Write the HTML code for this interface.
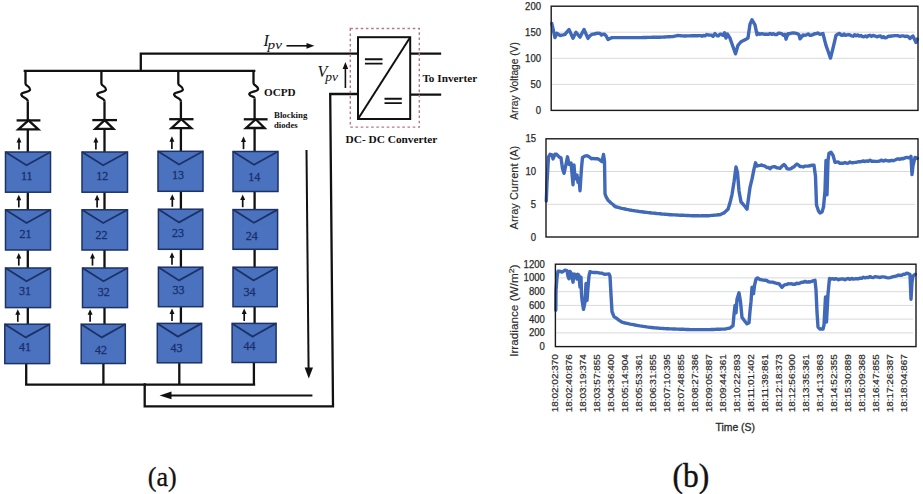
<!DOCTYPE html>
<html><head><meta charset="utf-8"><style>
html,body{margin:0;padding:0;background:#fff;font-family:"Liberation Sans",sans-serif;}
body{width:923px;height:494px;overflow:hidden;}
svg{display:block;}
</style></head><body>
<svg width="923" height="494" viewBox="0 0 923 494">

<g stroke="#111" stroke-width="2.3" fill="none" stroke-linecap="square">
<path d="M24.8 70.9 H254.2"/>
<path d="M140.8 70.9 V53.6 H358"/>
<path d="M358 94 H330.2 L333 406.3 H144.7 V384.5"/>
<path d="M26.2 384.6 H254"/>
<path d="M410 53.6 H440"/><path d="M410 94.6 H440"/>
</g>
<path d="M25.5 70.9 V83.4 C25.5 86.2 30.5 86.2 30.1 89.60000000000001 C29.7 92.80000000000001 20.7 91.4 21.3 94.80000000000001 C21.9 97.9 27.8 97.8 27.8 101.3 " stroke="#111" stroke-width="2.3" fill="none"/>
<path d="M27.8 101.3 V120.4" stroke="#111" stroke-width="2.3"/>
<path d="M27.8 129.3 V152" stroke="#111" stroke-width="2.3"/>
<path d="M16.6 120.4 H40.4" stroke="#111" stroke-width="2.3"/>
<path d="M28.5 120.4 L18.4 129.3 H38.3 Z" stroke="#111" stroke-width="2.3" fill="none" stroke-linejoin="miter"/>
<path d="M27.8 192.2 V209.8" stroke="#111" stroke-width="2.3"/>
<path d="M27.8 250 V268" stroke="#111" stroke-width="2.3"/>
<path d="M27.8 307.6 V324.2" stroke="#111" stroke-width="2.3"/>
<path d="M26.2 363.6 V384.6" stroke="#111" stroke-width="2.3"/>
<path d="M19.0 149.6 V141.0" stroke="#111" stroke-width="1.7"/>
<path d="M16.5 142.5 L19.0 137.0 L21.5 142.5 Z" fill="#111"/>
<path d="M18.8 207.4 V198.8" stroke="#111" stroke-width="1.7"/>
<path d="M16.3 200.3 L18.8 194.8 L21.3 200.3 Z" fill="#111"/>
<path d="M18.8 265.6 V257.0" stroke="#111" stroke-width="1.7"/>
<path d="M16.3 258.5 L18.8 253.0 L21.3 258.5 Z" fill="#111"/>
<path d="M17.8 321.8 V313.2" stroke="#111" stroke-width="1.7"/>
<path d="M15.3 314.7 L17.8 309.2 L20.3 314.7 Z" fill="#111"/>
<rect x="5.5" y="152" width="45.0" height="40.2" fill="#4a72be" stroke="#1c3166" stroke-width="1.5"/>
<path d="M5.5 152 L26.5 165.2 L50.5 152" fill="none" stroke="#1c3166" stroke-width="1.8"/>
<text x="26.7" y="179.9" font-family="Liberation Serif" font-size="12" fill="#1a2f6e" stroke="#1a2f6e" stroke-width="0.3" text-anchor="middle">11</text>
<rect x="5.5" y="209.8" width="45.0" height="40.2" fill="#4a72be" stroke="#1c3166" stroke-width="1.5"/>
<path d="M5.5 209.8 L26.5 223.0 L50.5 209.8" fill="none" stroke="#1c3166" stroke-width="1.8"/>
<text x="25.5" y="237.8" font-family="Liberation Serif" font-size="12" fill="#1a2f6e" stroke="#1a2f6e" stroke-width="0.3" text-anchor="middle">21</text>
<rect x="5.5" y="268" width="45.0" height="39.6" fill="#4a72be" stroke="#1c3166" stroke-width="1.5"/>
<path d="M5.5 268 L26.5 281.2 L50.5 268" fill="none" stroke="#1c3166" stroke-width="1.8"/>
<text x="24.9" y="294.9" font-family="Liberation Serif" font-size="12" fill="#1a2f6e" stroke="#1a2f6e" stroke-width="0.3" text-anchor="middle">31</text>
<rect x="4.8" y="324.2" width="44.8" height="39.4" fill="#4a72be" stroke="#1c3166" stroke-width="1.5"/>
<path d="M4.8 324.2 L25.7 337.4 L49.6 324.2" fill="none" stroke="#1c3166" stroke-width="1.8"/>
<text x="24.9" y="351.0" font-family="Liberation Serif" font-size="12" fill="#1a2f6e" stroke="#1a2f6e" stroke-width="0.3" text-anchor="middle">41</text>
<path d="M101.4 70.9 V83.4 C101.4 86.2 106.4 86.2 106.0 89.60000000000001 C105.60000000000001 92.80000000000001 96.60000000000001 91.4 97.2 94.80000000000001 C97.80000000000001 97.9 104.5 97.8 104.5 101.3 " stroke="#111" stroke-width="2.3" fill="none"/>
<path d="M104.5 101.3 V120.1" stroke="#111" stroke-width="2.3"/>
<path d="M104.5 128.9 V152" stroke="#111" stroke-width="2.3"/>
<path d="M92.3 120.1 H117" stroke="#111" stroke-width="2.3"/>
<path d="M104.7 120.1 L95.3 128.9 H113.5 Z" stroke="#111" stroke-width="2.3" fill="none" stroke-linejoin="miter"/>
<path d="M104.5 192.2 V209.8" stroke="#111" stroke-width="2.3"/>
<path d="M104.5 250 V268" stroke="#111" stroke-width="2.3"/>
<path d="M104.5 307.6 V324.2" stroke="#111" stroke-width="2.3"/>
<path d="M103.4 363.5 V384.6" stroke="#111" stroke-width="2.3"/>
<path d="M95.9 149.6 V141.0" stroke="#111" stroke-width="1.7"/>
<path d="M93.4 142.5 L95.9 137.0 L98.4 142.5 Z" fill="#111"/>
<path d="M97.1 207.4 V198.8" stroke="#111" stroke-width="1.7"/>
<path d="M94.6 200.3 L97.1 194.8 L99.6 200.3 Z" fill="#111"/>
<path d="M92.5 265.6 V257.0" stroke="#111" stroke-width="1.7"/>
<path d="M90.0 258.5 L92.5 253.0 L95.0 258.5 Z" fill="#111"/>
<path d="M90.1 321.8 V313.2" stroke="#111" stroke-width="1.7"/>
<path d="M87.6 314.7 L90.1 309.2 L92.6 314.7 Z" fill="#111"/>
<rect x="82" y="152" width="45.5" height="40.2" fill="#4a72be" stroke="#1c3166" stroke-width="1.5"/>
<path d="M82 152 L103.2 165.2 L127.5 152" fill="none" stroke="#1c3166" stroke-width="1.8"/>
<text x="102.3" y="179.5" font-family="Liberation Serif" font-size="12" fill="#1a2f6e" stroke="#1a2f6e" stroke-width="0.3" text-anchor="middle">12</text>
<rect x="82" y="209.8" width="45.5" height="40.2" fill="#4a72be" stroke="#1c3166" stroke-width="1.5"/>
<path d="M82 209.8 L103.2 223.0 L127.5 209.8" fill="none" stroke="#1c3166" stroke-width="1.8"/>
<text x="101.6" y="238.5" font-family="Liberation Serif" font-size="12" fill="#1a2f6e" stroke="#1a2f6e" stroke-width="0.3" text-anchor="middle">22</text>
<rect x="82.5" y="268" width="45.0" height="39.6" fill="#4a72be" stroke="#1c3166" stroke-width="1.5"/>
<path d="M82.5 268 L103.5 281.2 L127.5 268" fill="none" stroke="#1c3166" stroke-width="1.8"/>
<text x="103.8" y="295.8" font-family="Liberation Serif" font-size="12" fill="#1a2f6e" stroke="#1a2f6e" stroke-width="0.3" text-anchor="middle">32</text>
<rect x="81.2" y="324.2" width="44.1" height="39.3" fill="#4a72be" stroke="#1c3166" stroke-width="1.5"/>
<path d="M81.2 324.2 L101.8 337.4 L125.3 324.2" fill="none" stroke="#1c3166" stroke-width="1.8"/>
<text x="101" y="353.5" font-family="Liberation Serif" font-size="12" fill="#1a2f6e" stroke="#1a2f6e" stroke-width="0.3" text-anchor="middle">42</text>
<path d="M178.3 70.9 V83.4 C178.3 86.2 183.3 86.2 182.9 89.60000000000001 C182.5 92.80000000000001 173.5 91.4 174.10000000000002 94.80000000000001 C174.70000000000002 97.9 180.9 97.8 180.9 101.3 " stroke="#111" stroke-width="2.3" fill="none"/>
<path d="M180.9 101.3 V119.2" stroke="#111" stroke-width="2.3"/>
<path d="M180.9 128.2 V151.3" stroke="#111" stroke-width="2.3"/>
<path d="M169.2 119.2 H193.5" stroke="#111" stroke-width="2.3"/>
<path d="M181.3 119.2 L171.5 128.2 H191.3 Z" stroke="#111" stroke-width="2.3" fill="none" stroke-linejoin="miter"/>
<path d="M180.9 191.3 V209.2" stroke="#111" stroke-width="2.3"/>
<path d="M180.9 249.3 V267.2" stroke="#111" stroke-width="2.3"/>
<path d="M180.9 306.7 V323.4" stroke="#111" stroke-width="2.3"/>
<path d="M179.3 362.8 V384.6" stroke="#111" stroke-width="2.3"/>
<path d="M171.9 148.9 V140.3" stroke="#111" stroke-width="1.7"/>
<path d="M169.4 141.8 L171.9 136.3 L174.4 141.8 Z" fill="#111"/>
<path d="M172.3 206.79999999999998 V198.2" stroke="#111" stroke-width="1.7"/>
<path d="M169.8 199.7 L172.3 194.2 L174.8 199.7 Z" fill="#111"/>
<path d="M172.0 264.8 V256.2" stroke="#111" stroke-width="1.7"/>
<path d="M169.5 257.7 L172.0 252.2 L174.5 257.7 Z" fill="#111"/>
<path d="M172.0 321.0 V312.4" stroke="#111" stroke-width="1.7"/>
<path d="M169.5 313.9 L172.0 308.4 L174.5 313.9 Z" fill="#111"/>
<rect x="158" y="151.3" width="45.0" height="40.0" fill="#4a72be" stroke="#1c3166" stroke-width="1.5"/>
<path d="M158 151.3 L179.0 164.5 L203 151.3" fill="none" stroke="#1c3166" stroke-width="1.8"/>
<text x="178.1" y="179.0" font-family="Liberation Serif" font-size="12" fill="#1a2f6e" stroke="#1a2f6e" stroke-width="0.3" text-anchor="middle">13</text>
<rect x="158.4" y="209.2" width="44.4" height="40.1" fill="#4a72be" stroke="#1c3166" stroke-width="1.5"/>
<path d="M158.4 209.2 L179.1 222.39999999999998 L202.8 209.2" fill="none" stroke="#1c3166" stroke-width="1.8"/>
<text x="178" y="237.0" font-family="Liberation Serif" font-size="12" fill="#1a2f6e" stroke="#1a2f6e" stroke-width="0.3" text-anchor="middle">23</text>
<rect x="158.4" y="267.2" width="44.4" height="39.5" fill="#4a72be" stroke="#1c3166" stroke-width="1.5"/>
<path d="M158.4 267.2 L179.1 280.4 L202.8 267.2" fill="none" stroke="#1c3166" stroke-width="1.8"/>
<text x="178.4" y="294.3" font-family="Liberation Serif" font-size="12" fill="#1a2f6e" stroke="#1a2f6e" stroke-width="0.3" text-anchor="middle">33</text>
<rect x="157.3" y="323.4" width="44.3" height="39.4" fill="#4a72be" stroke="#1c3166" stroke-width="1.5"/>
<path d="M157.3 323.4 L177.9 336.59999999999997 L201.6 323.4" fill="none" stroke="#1c3166" stroke-width="1.8"/>
<text x="176.6" y="351.6" font-family="Liberation Serif" font-size="12" fill="#1a2f6e" stroke="#1a2f6e" stroke-width="0.3" text-anchor="middle">43</text>
<path d="M253.5 70.9 V83.0 C253.5 85.8 258.5 85.8 258.1 89.2 C257.7 92.4 248.7 91.0 249.3 94.4 C249.9 97.5 254.6 95.1 254.6 98.6 " stroke="#111" stroke-width="2.3" fill="none"/>
<path d="M254.6 98.6 V119.3" stroke="#111" stroke-width="2.3"/>
<path d="M254.6 128.0 V151.5" stroke="#111" stroke-width="2.3"/>
<path d="M243.8 119.3 H267.6" stroke="#111" stroke-width="2.3"/>
<path d="M255.7 119.3 L246.0 128.0 H264.6 Z" stroke="#111" stroke-width="2.3" fill="none" stroke-linejoin="miter"/>
<path d="M254.6 191.5 V209.6" stroke="#111" stroke-width="2.3"/>
<path d="M254.6 249.3 V267.2" stroke="#111" stroke-width="2.3"/>
<path d="M254.6 306.7 V323.4" stroke="#111" stroke-width="2.3"/>
<path d="M253.9 362.5 V384.6" stroke="#111" stroke-width="2.3"/>
<path d="M243.5 149.1 V140.5" stroke="#111" stroke-width="1.7"/>
<path d="M241.0 142.0 L243.5 136.5 L246.0 142.0 Z" fill="#111"/>
<path d="M242.7 207.2 V198.6" stroke="#111" stroke-width="1.7"/>
<path d="M240.2 200.1 L242.7 194.6 L245.2 200.1 Z" fill="#111"/>
<path d="M244.2 321.0 V312.4" stroke="#111" stroke-width="1.7"/>
<path d="M241.7 313.9 L244.2 308.4 L246.7 313.9 Z" fill="#111"/>
<rect x="233" y="151.5" width="45.0" height="40.0" fill="#4a72be" stroke="#1c3166" stroke-width="1.5"/>
<path d="M233 151.5 L254.0 164.7 L278 151.5" fill="none" stroke="#1c3166" stroke-width="1.8"/>
<text x="254.2" y="180.8" font-family="Liberation Serif" font-size="12" fill="#1a2f6e" stroke="#1a2f6e" stroke-width="0.3" text-anchor="middle">14</text>
<rect x="233" y="209.6" width="44.6" height="39.7" fill="#4a72be" stroke="#1c3166" stroke-width="1.5"/>
<path d="M233 209.6 L253.8 222.79999999999998 L277.6 209.6" fill="none" stroke="#1c3166" stroke-width="1.8"/>
<text x="251.8" y="239.5" font-family="Liberation Serif" font-size="12" fill="#1a2f6e" stroke="#1a2f6e" stroke-width="0.3" text-anchor="middle">24</text>
<rect x="233" y="267.2" width="44.2" height="39.5" fill="#4a72be" stroke="#1c3166" stroke-width="1.5"/>
<path d="M233 267.2 L253.6 280.4 L277.2 267.2" fill="none" stroke="#1c3166" stroke-width="1.8"/>
<text x="249.4" y="295.5" font-family="Liberation Serif" font-size="12" fill="#1a2f6e" stroke="#1a2f6e" stroke-width="0.3" text-anchor="middle">34</text>
<rect x="232.1" y="323.4" width="44.0" height="39.1" fill="#4a72be" stroke="#1c3166" stroke-width="1.5"/>
<path d="M232.1 323.4 L252.6 336.59999999999997 L276.1 323.4" fill="none" stroke="#1c3166" stroke-width="1.8"/>
<text x="249.4" y="349.5" font-family="Liberation Serif" font-size="12" fill="#1a2f6e" stroke="#1a2f6e" stroke-width="0.3" text-anchor="middle">44</text>
<path d="M306.5 150 L308.6 370" stroke="#111" stroke-width="2"/>
<path d="M304.6 367.6 L313 367.6 L308.8 378.5 Z" fill="#111"/>
<path d="M312.4 395.4 H168" stroke="#111" stroke-width="2"/>
<path d="M171.5 391.6 L159.6 395.4 L171.5 399.2 Z" fill="#111"/>
<path d="M286.5 45.8 H308" stroke="#111" stroke-width="1.6"/>
<path d="M306.5 42.9 L314.4 45.8 L306.5 48.7 Z" fill="#111"/>
<path d="M345.4 88 V67" stroke="#111" stroke-width="1.6"/>
<path d="M342.6 69 L345.4 62 L348.2 69 Z" fill="#111"/>
<rect x="350.3" y="28.5" width="69" height="98.6" fill="none" stroke="#b57a86" stroke-width="1.4" stroke-dasharray="2.6 2.6"/>
<rect x="358" y="37.2" width="52.2" height="81.8" fill="#fff" stroke="#111" stroke-width="2"/>
<path d="M358 119 L410.2 37.2" stroke="#111" stroke-width="2"/>
<path d="M364.9 59.3 H382.5 M364.9 63.6 H382.5" stroke="#111" stroke-width="1.9"/>
<path d="M384.5 98.8 H401.8 M384.5 103.1 H401.8" stroke="#111" stroke-width="1.9"/>
<text x="263.6" y="46.2" font-family="Liberation Serif" font-style="italic" font-size="16" fill="#111">I</text>
<text x="267.6" y="49.2" font-family="Liberation Serif" font-style="italic" font-size="12.5" fill="#111" textLength="14.4" lengthAdjust="spacingAndGlyphs">pv</text>
<text x="317.6" y="77.4" font-family="Liberation Serif" font-style="italic" font-size="16" fill="#111">V</text>
<text x="325.2" y="80.5" font-family="Liberation Serif" font-style="italic" font-size="12.5" fill="#111" textLength="12.8" lengthAdjust="spacingAndGlyphs">pv</text>
<text x="264" y="96.2" font-family="Liberation Serif" font-weight="bold" font-size="11" fill="#111" textLength="31.6" lengthAdjust="spacingAndGlyphs">OCPD</text>
<text x="274" y="117.7" font-family="Liberation Serif" font-weight="bold" font-size="8.8" fill="#111" textLength="33.4" lengthAdjust="spacingAndGlyphs">Blocking</text>
<text x="274" y="127.5" font-family="Liberation Serif" font-weight="bold" font-size="8.8" fill="#111" textLength="23.7" lengthAdjust="spacingAndGlyphs">diodes</text>
<text x="422.4" y="82.1" font-family="Liberation Serif" font-weight="bold" font-size="11" fill="#111" textLength="54.8" lengthAdjust="spacingAndGlyphs">To Inverter</text>
<text x="345.6" y="142.9" font-family="Liberation Serif" font-weight="bold" font-size="11" fill="#111" textLength="91.8" lengthAdjust="spacingAndGlyphs">DC- DC Converter</text>
<text x="147.7" y="486" font-family="Liberation Serif" font-size="27.5" fill="#111" stroke="#111" stroke-width="0.3" textLength="29" lengthAdjust="spacingAndGlyphs">(a)</text>
<text x="672.5" y="486.5" font-family="Liberation Serif" font-size="33" fill="#111" stroke="#111" stroke-width="0.4" textLength="36.7" lengthAdjust="spacingAndGlyphs">(b)</text>
<text x="541" y="113.9" font-family="Liberation Sans" font-size="10" fill="#2a2a2a" stroke="#2a2a2a" stroke-width="0.25" text-anchor="end" textLength="5.3" lengthAdjust="spacingAndGlyphs">0</text>
<path d="M552.2 84.4 H915" stroke="#d9d9d9" stroke-width="1"/>
<text x="541" y="87.9" font-family="Liberation Sans" font-size="10" fill="#2a2a2a" stroke="#2a2a2a" stroke-width="0.25" text-anchor="end" textLength="10.6" lengthAdjust="spacingAndGlyphs">50</text>
<path d="M552.2 58.3 H915" stroke="#d9d9d9" stroke-width="1"/>
<text x="541" y="61.8" font-family="Liberation Sans" font-size="10" fill="#2a2a2a" stroke="#2a2a2a" stroke-width="0.25" text-anchor="end" textLength="15.9" lengthAdjust="spacingAndGlyphs">100</text>
<path d="M552.2 32.2 H915" stroke="#d9d9d9" stroke-width="1"/>
<text x="541" y="35.8" font-family="Liberation Sans" font-size="10" fill="#2a2a2a" stroke="#2a2a2a" stroke-width="0.25" text-anchor="end" textLength="15.9" lengthAdjust="spacingAndGlyphs">150</text>
<text x="541" y="9.7" font-family="Liberation Sans" font-size="10" fill="#2a2a2a" stroke="#2a2a2a" stroke-width="0.25" text-anchor="end" textLength="15.9" lengthAdjust="spacingAndGlyphs">200</text>
<path d="M551.8 23.5 L553.4 30.6 L555.0 37.6 L557.0 33.3 L558.5 34.4 L560.0 35.5 L561.7 35.1 L563.3 34.8 L565.0 34.4 L567.0 31.9 L569.0 29.5 L571.0 33.9 L573.0 38.2 L574.5 35.2 L576.0 32.2 L578.0 34.7 L580.0 37.1 L582.0 33.3 L584.0 29.5 L586.0 34.0 L588.0 38.4 L589.5 36.2 L591.0 35.0 L592.7 34.1 L594.3 34.0 L596.0 33.5 L598.0 33.1 L600.0 33.5 L601.5 35.1 L603.0 34.2 L604.5 34.3 L606.0 35.8 L608.0 39.5 L610.0 38.5 L612.0 37.6 L613.6 37.6 L615.1 37.6 L616.7 37.6 L618.2 37.6 L619.8 37.6 L621.3 37.6 L622.9 37.6 L624.4 37.6 L626.0 37.6 L627.6 37.6 L629.1 37.6 L630.7 37.6 L632.2 37.6 L633.8 37.6 L635.3 37.6 L636.9 37.6 L638.4 37.6 L640.0 37.6 L641.5 37.6 L643.1 37.5 L644.6 37.5 L646.1 37.5 L647.7 37.4 L649.2 37.4 L650.7 37.4 L652.3 37.3 L653.8 37.3 L655.3 37.3 L656.9 37.2 L658.4 37.2 L659.9 37.2 L661.5 37.1 L663.0 37.1 L664.7 37.0 L666.3 36.9 L668.0 36.8 L669.7 36.7 L671.3 36.6 L673.0 36.5 L674.7 36.2 L676.3 35.8 L678.0 35.5 L679.5 35.6 L681.0 35.8 L682.5 35.9 L684.0 36.0 L685.5 36.0 L687.0 35.9 L688.5 35.9 L690.0 35.9 L691.5 35.8 L693.0 35.8 L694.5 35.8 L696.0 35.7 L697.5 35.7 L699.0 35.6 L700.5 35.6 L702.0 36.2 L703.5 35.5 L705.0 35.8 L706.7 34.5 L708.3 35.0 L710.0 35.1 L711.5 35.2 L713.0 36.4 L715.0 33.6 L717.0 35.7 L718.5 35.7 L720.0 34.2 L721.5 34.3 L723.0 35.4 L724.5 32.8 L726.0 38.0 L727.5 34.0 L730.0 38.2 L731.5 42.5 L733.0 46.7 L735.5 53.8 L738.0 45.3 L739.5 43.5 L741.0 41.8 L743.0 40.8 L745.0 39.7 L746.5 38.9 L748.0 38.0 L750.0 24.1 L752.0 19.8 L753.5 22.3 L755.0 24.8 L757.0 34.7 L758.5 33.3 L760.0 34.3 L761.7 33.6 L763.3 34.0 L765.0 34.3 L766.7 34.1 L768.3 34.4 L770.0 33.5 L771.7 34.3 L773.3 33.7 L775.0 34.6 L776.7 34.6 L778.3 33.2 L780.0 33.3 L781.7 33.7 L783.3 35.2 L785.0 34.4 L786.0 39.2 L788.0 33.6 L789.8 33.7 L791.5 33.2 L793.2 32.9 L795.0 33.1 L797.0 33.6 L799.0 34.7 L800.0 38.8 L801.5 37.2 L803.0 34.9 L804.8 35.3 L806.5 34.8 L808.2 34.0 L810.0 35.3 L811.5 35.2 L813.0 34.7 L814.5 33.8 L816.0 33.7 L817.8 33.0 L819.5 34.2 L821.2 34.0 L823.0 33.6 L824.5 39.7 L826.0 45.4 L828.0 51.0 L830.5 58.1 L833.0 48.2 L834.5 41.8 L836.0 35.4 L838.0 34.0 L839.5 33.4 L841.0 35.0 L842.5 35.4 L844.0 34.0 L845.5 35.4 L847.0 34.9 L848.5 34.6 L850.0 35.0 L851.5 35.9 L853.1 36.2 L854.6 34.7 L856.2 35.8 L857.7 34.9 L859.2 36.1 L860.8 35.5 L862.3 36.5 L863.8 36.7 L865.4 35.9 L866.9 36.9 L868.5 35.7 L870.0 35.3 L871.5 36.4 L873.0 35.5 L874.5 35.9 L876.0 36.3 L877.5 36.8 L879.0 36.1 L880.5 36.0 L882.0 37.6 L883.5 36.7 L885.0 37.9 L886.7 37.5 L888.3 36.3 L890.0 36.2 L891.7 36.0 L893.3 35.9 L895.0 35.6 L896.7 35.6 L898.3 35.8 L900.0 36.5 L901.7 35.9 L903.3 35.9 L905.0 36.5 L906.7 36.1 L908.3 36.7 L910.0 38.5 L911.5 36.9 L913.0 36.1 L914.5 39.3 L916.0 42.5 L917.3 39.0" fill="none" stroke="#4169b9" stroke-width="3.4" stroke-linejoin="round" stroke-linecap="round"/>
<rect x="551.2" y="6.2" width="366.79999999999995" height="104.2" fill="none" stroke="#1a1a1a" stroke-width="1.4"/>
<text transform="translate(518 81) rotate(-90)" font-family="Liberation Sans" font-size="10.2" fill="#2a2a2a" stroke="#2a2a2a" stroke-width="0.15" text-anchor="middle" textLength="77.6" lengthAdjust="spacingAndGlyphs">Array Voltage (V)</text>
<text x="536" y="240.5" font-family="Liberation Sans" font-size="10" fill="#2a2a2a" stroke="#2a2a2a" stroke-width="0.25" text-anchor="end" textLength="5.3" lengthAdjust="spacingAndGlyphs">0</text>
<path d="M547 204.3 H915" stroke="#d9d9d9" stroke-width="1"/>
<text x="536" y="207.8" font-family="Liberation Sans" font-size="10" fill="#2a2a2a" stroke="#2a2a2a" stroke-width="0.25" text-anchor="end" textLength="5.3" lengthAdjust="spacingAndGlyphs">5</text>
<path d="M547 171.5 H915" stroke="#d9d9d9" stroke-width="1"/>
<text x="536" y="175.0" font-family="Liberation Sans" font-size="10" fill="#2a2a2a" stroke="#2a2a2a" stroke-width="0.25" text-anchor="end" textLength="10.6" lengthAdjust="spacingAndGlyphs">10</text>
<text x="536" y="142.3" font-family="Liberation Sans" font-size="10" fill="#2a2a2a" stroke="#2a2a2a" stroke-width="0.25" text-anchor="end" textLength="10.6" lengthAdjust="spacingAndGlyphs">15</text>
<path d="M546.3 201.0 L547.0 182.5 L548.5 157.0 L550.0 154.3 L552.0 154.9 L553.0 158.9 L555.0 154.3 L556.5 154.2 L558.0 155.8 L559.5 157.2 L561.0 157.8 L562.5 168.5 L564.0 173.3 L566.0 164.3 L567.5 156.8 L569.0 164.3 L571.0 163.0 L572.0 173.3 L573.0 184.7 L574.0 165.0 L575.0 178.9 L577.0 175.1 L578.0 182.4 L579.0 178.4 L580.0 190.7 L581.5 168.1 L582.5 157.4 L585.0 156.1 L587.0 155.7 L588.5 156.4 L590.0 157.5 L591.5 158.8 L593.0 158.4 L595.0 158.8 L597.0 158.7 L598.5 159.2 L600.0 160.1 L602.0 161.7 L603.5 154.5 L604.5 161.3 L605.0 193.8 L606.0 196.7 L608.0 200.2 L609.5 201.6 L611.0 203.0 L613.0 204.5 L615.0 206.5 L616.7 207.0 L618.3 207.4 L620.0 207.9 L621.7 208.3 L623.3 208.6 L625.0 209.0 L626.7 209.4 L628.3 209.7 L630.0 210.1 L631.7 210.3 L633.3 210.6 L635.0 210.8 L636.7 211.1 L638.3 211.3 L640.0 211.6 L641.7 211.8 L643.3 212.0 L645.0 212.2 L646.7 212.4 L648.3 212.6 L650.0 212.8 L651.7 213.0 L653.3 213.1 L655.0 213.3 L656.7 213.5 L658.3 213.6 L660.0 213.8 L661.7 214.0 L663.3 214.1 L665.0 214.2 L666.7 214.4 L668.3 214.5 L670.0 214.7 L671.7 214.8 L673.3 214.9 L675.0 214.9 L676.7 215.0 L678.3 215.1 L680.0 215.2 L681.7 215.3 L683.3 215.3 L685.0 215.4 L686.7 215.5 L688.3 215.5 L690.0 215.6 L691.7 215.7 L693.3 215.7 L695.0 215.8 L696.7 215.8 L698.3 215.8 L700.0 215.9 L701.7 215.8 L703.3 215.8 L705.0 215.8 L706.7 215.7 L708.3 215.7 L710.0 215.6 L711.7 215.4 L713.3 215.3 L715.0 215.1 L716.7 215.0 L718.3 214.8 L720.0 214.7 L722.0 213.8 L724.0 212.9 L726.0 211.1 L728.0 209.2 L730.0 202.8 L732.0 194.6 L734.0 181.9 L736.0 167.0 L737.5 172.8 L739.0 191.0 L741.0 201.9 L743.0 204.2 L745.0 206.5 L747.0 209.2 L748.5 198.3 L750.0 187.4 L752.0 179.2 L754.0 169.1 L755.5 162.8 L757.0 166.0 L758.5 165.7 L760.0 165.4 L761.7 165.0 L763.3 165.7 L765.0 166.2 L766.7 167.5 L768.3 167.5 L770.0 168.7 L771.7 167.1 L773.3 166.8 L775.0 166.6 L776.7 167.7 L778.3 167.9 L780.0 168.4 L782.0 166.2 L784.0 164.6 L785.5 166.0 L787.0 168.6 L789.0 169.1 L791.0 168.7 L792.5 167.4 L794.0 166.8 L795.5 165.2 L797.0 164.1 L798.5 165.1 L800.0 166.5 L801.7 166.5 L803.3 167.0 L805.0 166.1 L806.7 166.1 L808.3 166.0 L810.0 165.8 L812.0 165.1 L814.0 165.1 L815.5 176.4 L816.5 205.0 L818.5 211.0 L820.0 213.0 L822.0 212.0 L823.5 207.0 L825.0 190.8 L826.0 160.4 L827.0 194.8 L828.0 160.4 L829.0 153.3 L831.0 152.3 L833.0 155.3 L835.0 162.4 L836.7 162.1 L838.3 162.0 L840.0 163.4 L841.7 163.3 L843.3 163.3 L845.0 162.5 L846.7 163.2 L848.3 163.1 L850.0 162.0 L851.7 162.7 L853.3 162.7 L855.0 162.4 L856.7 162.2 L858.3 161.8 L860.0 161.8 L861.7 161.4 L863.3 161.0 L865.0 161.5 L866.7 160.9 L868.3 161.4 L870.0 160.2 L871.7 161.4 L873.3 161.1 L875.0 161.4 L876.7 161.4 L878.3 161.4 L880.0 160.9 L881.7 160.1 L883.3 161.1 L885.0 160.3 L886.7 160.5 L888.3 161.0 L890.0 160.8 L891.7 160.3 L893.3 160.7 L895.0 160.0 L896.7 159.2 L898.3 158.8 L900.0 159.3 L901.7 158.5 L903.3 158.7 L905.0 157.9 L906.7 157.4 L908.3 157.7 L910.0 157.8 L911.0 156.3 L912.0 174.6 L913.0 165.5 L915.0 157.4 L917.3 158.4" fill="none" stroke="#4169b9" stroke-width="3.4" stroke-linejoin="round" stroke-linecap="round"/>
<rect x="546" y="138.8" width="372" height="98.19999999999999" fill="none" stroke="#1a1a1a" stroke-width="1.4"/>
<text transform="translate(518 187.6) rotate(-90)" font-family="Liberation Sans" font-size="10.2" fill="#2a2a2a" stroke="#2a2a2a" stroke-width="0.15" text-anchor="middle" textLength="83.7" lengthAdjust="spacingAndGlyphs">Array Current (A)</text>
<text x="544.8" y="350.1" font-family="Liberation Sans" font-size="10" fill="#2a2a2a" stroke="#2a2a2a" stroke-width="0.25" text-anchor="end" textLength="5.3" lengthAdjust="spacingAndGlyphs">0</text>
<path d="M556.4 332.9 H913" stroke="#d9d9d9" stroke-width="1"/>
<text x="544.8" y="336.4" font-family="Liberation Sans" font-size="10" fill="#2a2a2a" stroke="#2a2a2a" stroke-width="0.25" text-anchor="end" textLength="15.9" lengthAdjust="spacingAndGlyphs">200</text>
<path d="M556.4 319.1 H913" stroke="#d9d9d9" stroke-width="1"/>
<text x="544.8" y="322.6" font-family="Liberation Sans" font-size="10" fill="#2a2a2a" stroke="#2a2a2a" stroke-width="0.25" text-anchor="end" textLength="15.9" lengthAdjust="spacingAndGlyphs">400</text>
<path d="M556.4 305.4 H913" stroke="#d9d9d9" stroke-width="1"/>
<text x="544.8" y="308.9" font-family="Liberation Sans" font-size="10" fill="#2a2a2a" stroke="#2a2a2a" stroke-width="0.25" text-anchor="end" textLength="15.9" lengthAdjust="spacingAndGlyphs">600</text>
<path d="M556.4 291.7 H913" stroke="#d9d9d9" stroke-width="1"/>
<text x="544.8" y="295.2" font-family="Liberation Sans" font-size="10" fill="#2a2a2a" stroke="#2a2a2a" stroke-width="0.25" text-anchor="end" textLength="15.9" lengthAdjust="spacingAndGlyphs">800</text>
<path d="M556.4 277.9 H913" stroke="#d9d9d9" stroke-width="1"/>
<text x="544.8" y="281.4" font-family="Liberation Sans" font-size="10" fill="#2a2a2a" stroke="#2a2a2a" stroke-width="0.25" text-anchor="end" textLength="21.2" lengthAdjust="spacingAndGlyphs">1000</text>
<text x="544.8" y="267.7" font-family="Liberation Sans" font-size="10" fill="#2a2a2a" stroke="#2a2a2a" stroke-width="0.25" text-anchor="end" textLength="21.2" lengthAdjust="spacingAndGlyphs">1200</text>
<path d="M555.8 310.2 L556.0 290.3 L557.0 277.6 L558.0 271.2 L560.0 271.2 L562.0 272.1 L563.5 271.1 L565.0 270.2 L567.0 270.6 L568.0 276.4 L569.0 278.7 L570.0 271.4 L571.5 273.7 L573.0 282.2 L574.0 274.0 L576.0 274.7 L577.0 279.0 L578.0 274.3 L579.0 275.6 L580.0 287.0 L581.0 277.2 L581.5 294.1 L582.0 299.8 L583.5 309.4 L585.0 302.1 L586.0 283.5 L587.0 300.3 L588.0 287.3 L589.0 276.0 L590.0 271.7 L592.0 272.4 L594.0 272.5 L596.0 272.4 L598.0 272.6 L600.0 273.1 L601.7 273.1 L603.3 273.8 L605.0 274.3 L607.0 274.1 L609.0 274.0 L610.0 276.2 L611.0 294.6 L612.0 311.6 L614.0 316.6 L615.5 317.6 L617.0 318.7 L618.5 319.8 L620.0 320.8 L622.0 322.2 L623.6 322.6 L625.2 323.0 L626.8 323.3 L628.4 323.7 L630.0 324.1 L631.7 324.4 L633.3 324.7 L635.0 325.0 L636.7 325.3 L638.3 325.6 L640.0 325.9 L641.7 326.1 L643.3 326.4 L645.0 326.6 L646.7 326.9 L648.3 327.1 L650.0 327.4 L651.7 327.5 L653.3 327.7 L655.0 327.9 L656.7 328.0 L658.3 328.1 L660.0 328.3 L661.7 328.4 L663.3 328.5 L665.0 328.6 L666.7 328.7 L668.3 328.8 L670.0 328.9 L671.7 328.9 L673.3 329.0 L675.0 329.0 L676.7 329.1 L678.3 329.1 L680.0 329.2 L681.7 329.3 L683.3 329.3 L685.0 329.4 L686.7 329.5 L688.3 329.5 L690.0 329.6 L691.7 329.6 L693.3 329.6 L695.0 329.6 L696.7 329.6 L698.3 329.6 L700.0 329.6 L701.7 329.6 L703.3 329.6 L705.0 329.6 L706.7 329.6 L708.3 329.6 L710.0 329.6 L711.7 329.5 L713.3 329.5 L715.0 329.4 L716.7 329.3 L718.3 329.3 L720.0 329.2 L721.7 329.1 L723.3 329.1 L725.0 329.0 L726.7 328.7 L728.3 328.3 L730.0 328.0 L731.5 326.8 L733.0 325.6 L734.0 314.6 L735.0 305.5 L736.0 312.8 L737.0 299.2 L739.0 292.8 L740.5 301.9 L742.0 317.4 L744.0 320.1 L745.5 322.0 L747.0 323.8 L749.0 322.8 L750.0 311.0 L751.0 301.9 L752.0 287.3 L753.5 293.7 L754.5 285.5 L756.0 279.1 L757.5 277.9 L760.0 279.6 L761.7 279.8 L763.3 280.1 L765.0 280.3 L766.7 280.5 L768.3 281.6 L770.0 282.0 L771.7 282.1 L773.3 282.3 L775.0 282.8 L777.0 283.5 L779.0 283.6 L780.5 285.7 L782.0 287.3 L783.5 285.6 L785.0 284.6 L786.7 284.6 L788.3 283.7 L790.0 283.9 L791.7 283.8 L793.3 284.3 L795.0 284.2 L796.7 283.2 L798.3 283.6 L800.0 283.1 L801.7 282.2 L803.3 282.2 L805.0 281.4 L806.7 282.1 L808.3 281.8 L810.0 282.0 L811.7 281.4 L813.3 280.7 L815.0 280.3 L816.0 290.0 L817.0 312.0 L818.0 327.0 L820.0 329.0 L821.5 329.0 L823.0 329.0 L824.0 325.0 L825.5 297.0 L826.5 322.0 L828.0 294.0 L829.5 278.5 L831.0 279.1 L832.5 278.6 L834.0 279.3 L835.5 278.7 L837.0 279.0 L838.5 279.8 L840.0 279.1 L841.7 279.0 L843.3 278.9 L845.0 279.8 L846.7 278.8 L848.3 278.5 L850.0 279.4 L851.7 278.4 L853.3 279.1 L855.0 278.8 L856.7 278.8 L858.3 278.8 L860.0 278.2 L861.7 278.3 L863.3 277.2 L865.0 277.9 L866.7 277.4 L868.3 277.5 L870.0 276.6 L871.7 277.4 L873.3 277.6 L875.0 276.6 L876.7 276.9 L878.3 277.2 L880.0 277.5 L881.7 276.9 L883.3 276.9 L885.0 277.1 L886.7 277.6 L888.3 277.9 L890.0 277.6 L891.7 277.1 L893.3 276.7 L895.0 276.3 L896.7 275.9 L898.3 275.1 L900.0 275.2 L901.6 275.4 L903.2 274.3 L904.8 274.4 L906.4 273.3 L908.0 273.5 L910.0 274.5 L911.0 299.2 L912.0 281.9 L913.0 276.1 L915.2 274.2" fill="none" stroke="#4169b9" stroke-width="3.4" stroke-linejoin="round" stroke-linecap="round"/>
<rect x="555.4" y="264.2" width="360.6" height="82.40000000000003" fill="none" stroke="#1a1a1a" stroke-width="1.4"/>
<text transform="translate(517.8 310.7) rotate(-90)" font-family="Liberation Sans" font-size="10.2" fill="#2a2a2a" stroke="#2a2a2a" stroke-width="0.15" text-anchor="middle" textLength="92.3" lengthAdjust="spacingAndGlyphs">Irradiance (W/m<tspan font-size="7.5" baseline-shift="4">2</tspan>)</text>
<text transform="translate(558.30 354.2) rotate(-90)" font-family="Liberation Sans" font-size="8.8" fill="#2a2a2a" stroke="#2a2a2a" stroke-width="0.2" text-anchor="end" textLength="58.1" lengthAdjust="spacingAndGlyphs">18:02:02:370</text>
<text transform="translate(572.25 354.2) rotate(-90)" font-family="Liberation Sans" font-size="8.8" fill="#2a2a2a" stroke="#2a2a2a" stroke-width="0.2" text-anchor="end" textLength="58.1" lengthAdjust="spacingAndGlyphs">18:02:40:876</text>
<text transform="translate(586.20 354.2) rotate(-90)" font-family="Liberation Sans" font-size="8.8" fill="#2a2a2a" stroke="#2a2a2a" stroke-width="0.2" text-anchor="end" textLength="58.1" lengthAdjust="spacingAndGlyphs">18:03:19:374</text>
<text transform="translate(600.15 354.2) rotate(-90)" font-family="Liberation Sans" font-size="8.8" fill="#2a2a2a" stroke="#2a2a2a" stroke-width="0.2" text-anchor="end" textLength="58.1" lengthAdjust="spacingAndGlyphs">18:03:57:855</text>
<text transform="translate(614.10 354.2) rotate(-90)" font-family="Liberation Sans" font-size="8.8" fill="#2a2a2a" stroke="#2a2a2a" stroke-width="0.2" text-anchor="end" textLength="58.1" lengthAdjust="spacingAndGlyphs">18:04:36:400</text>
<text transform="translate(628.05 354.2) rotate(-90)" font-family="Liberation Sans" font-size="8.8" fill="#2a2a2a" stroke="#2a2a2a" stroke-width="0.2" text-anchor="end" textLength="58.1" lengthAdjust="spacingAndGlyphs">18:05:14:904</text>
<text transform="translate(642.00 354.2) rotate(-90)" font-family="Liberation Sans" font-size="8.8" fill="#2a2a2a" stroke="#2a2a2a" stroke-width="0.2" text-anchor="end" textLength="58.1" lengthAdjust="spacingAndGlyphs">18:05:53:361</text>
<text transform="translate(655.95 354.2) rotate(-90)" font-family="Liberation Sans" font-size="8.8" fill="#2a2a2a" stroke="#2a2a2a" stroke-width="0.2" text-anchor="end" textLength="58.1" lengthAdjust="spacingAndGlyphs">18:06:31:855</text>
<text transform="translate(669.90 354.2) rotate(-90)" font-family="Liberation Sans" font-size="8.8" fill="#2a2a2a" stroke="#2a2a2a" stroke-width="0.2" text-anchor="end" textLength="58.1" lengthAdjust="spacingAndGlyphs">18:07:10:395</text>
<text transform="translate(683.85 354.2) rotate(-90)" font-family="Liberation Sans" font-size="8.8" fill="#2a2a2a" stroke="#2a2a2a" stroke-width="0.2" text-anchor="end" textLength="58.1" lengthAdjust="spacingAndGlyphs">18:07:48:855</text>
<text transform="translate(697.80 354.2) rotate(-90)" font-family="Liberation Sans" font-size="8.8" fill="#2a2a2a" stroke="#2a2a2a" stroke-width="0.2" text-anchor="end" textLength="58.1" lengthAdjust="spacingAndGlyphs">18:08:27:386</text>
<text transform="translate(711.75 354.2) rotate(-90)" font-family="Liberation Sans" font-size="8.8" fill="#2a2a2a" stroke="#2a2a2a" stroke-width="0.2" text-anchor="end" textLength="58.1" lengthAdjust="spacingAndGlyphs">18:09:05:887</text>
<text transform="translate(725.70 354.2) rotate(-90)" font-family="Liberation Sans" font-size="8.8" fill="#2a2a2a" stroke="#2a2a2a" stroke-width="0.2" text-anchor="end" textLength="58.1" lengthAdjust="spacingAndGlyphs">18:09:44:361</text>
<text transform="translate(739.65 354.2) rotate(-90)" font-family="Liberation Sans" font-size="8.8" fill="#2a2a2a" stroke="#2a2a2a" stroke-width="0.2" text-anchor="end" textLength="58.1" lengthAdjust="spacingAndGlyphs">18:10:22:893</text>
<text transform="translate(753.60 354.2) rotate(-90)" font-family="Liberation Sans" font-size="8.8" fill="#2a2a2a" stroke="#2a2a2a" stroke-width="0.2" text-anchor="end" textLength="58.1" lengthAdjust="spacingAndGlyphs">18:11:01:402</text>
<text transform="translate(767.55 354.2) rotate(-90)" font-family="Liberation Sans" font-size="8.8" fill="#2a2a2a" stroke="#2a2a2a" stroke-width="0.2" text-anchor="end" textLength="58.1" lengthAdjust="spacingAndGlyphs">18:11:39:861</text>
<text transform="translate(781.50 354.2) rotate(-90)" font-family="Liberation Sans" font-size="8.8" fill="#2a2a2a" stroke="#2a2a2a" stroke-width="0.2" text-anchor="end" textLength="58.1" lengthAdjust="spacingAndGlyphs">18:12:18:373</text>
<text transform="translate(795.45 354.2) rotate(-90)" font-family="Liberation Sans" font-size="8.8" fill="#2a2a2a" stroke="#2a2a2a" stroke-width="0.2" text-anchor="end" textLength="58.1" lengthAdjust="spacingAndGlyphs">18:12:56:900</text>
<text transform="translate(809.40 354.2) rotate(-90)" font-family="Liberation Sans" font-size="8.8" fill="#2a2a2a" stroke="#2a2a2a" stroke-width="0.2" text-anchor="end" textLength="58.1" lengthAdjust="spacingAndGlyphs">18:13:35:361</text>
<text transform="translate(823.35 354.2) rotate(-90)" font-family="Liberation Sans" font-size="8.8" fill="#2a2a2a" stroke="#2a2a2a" stroke-width="0.2" text-anchor="end" textLength="58.1" lengthAdjust="spacingAndGlyphs">18:14:13:863</text>
<text transform="translate(837.30 354.2) rotate(-90)" font-family="Liberation Sans" font-size="8.8" fill="#2a2a2a" stroke="#2a2a2a" stroke-width="0.2" text-anchor="end" textLength="58.1" lengthAdjust="spacingAndGlyphs">18:14:52:355</text>
<text transform="translate(851.25 354.2) rotate(-90)" font-family="Liberation Sans" font-size="8.8" fill="#2a2a2a" stroke="#2a2a2a" stroke-width="0.2" text-anchor="end" textLength="58.1" lengthAdjust="spacingAndGlyphs">18:15:30:889</text>
<text transform="translate(865.20 354.2) rotate(-90)" font-family="Liberation Sans" font-size="8.8" fill="#2a2a2a" stroke="#2a2a2a" stroke-width="0.2" text-anchor="end" textLength="58.1" lengthAdjust="spacingAndGlyphs">18:16:09:368</text>
<text transform="translate(879.15 354.2) rotate(-90)" font-family="Liberation Sans" font-size="8.8" fill="#2a2a2a" stroke="#2a2a2a" stroke-width="0.2" text-anchor="end" textLength="58.1" lengthAdjust="spacingAndGlyphs">18:16:47:855</text>
<text transform="translate(893.10 354.2) rotate(-90)" font-family="Liberation Sans" font-size="8.8" fill="#2a2a2a" stroke="#2a2a2a" stroke-width="0.2" text-anchor="end" textLength="58.1" lengthAdjust="spacingAndGlyphs">18:17:26:387</text>
<text transform="translate(907.05 354.2) rotate(-90)" font-family="Liberation Sans" font-size="8.8" fill="#2a2a2a" stroke="#2a2a2a" stroke-width="0.2" text-anchor="end" textLength="58.1" lengthAdjust="spacingAndGlyphs">18:18:04:867</text>
<text x="715.4" y="431" font-family="Liberation Sans" font-size="10.8" fill="#2a2a2a" stroke="#2a2a2a" stroke-width="0.3" textLength="39.6" lengthAdjust="spacingAndGlyphs">Time (S)</text>
</svg></body></html>
